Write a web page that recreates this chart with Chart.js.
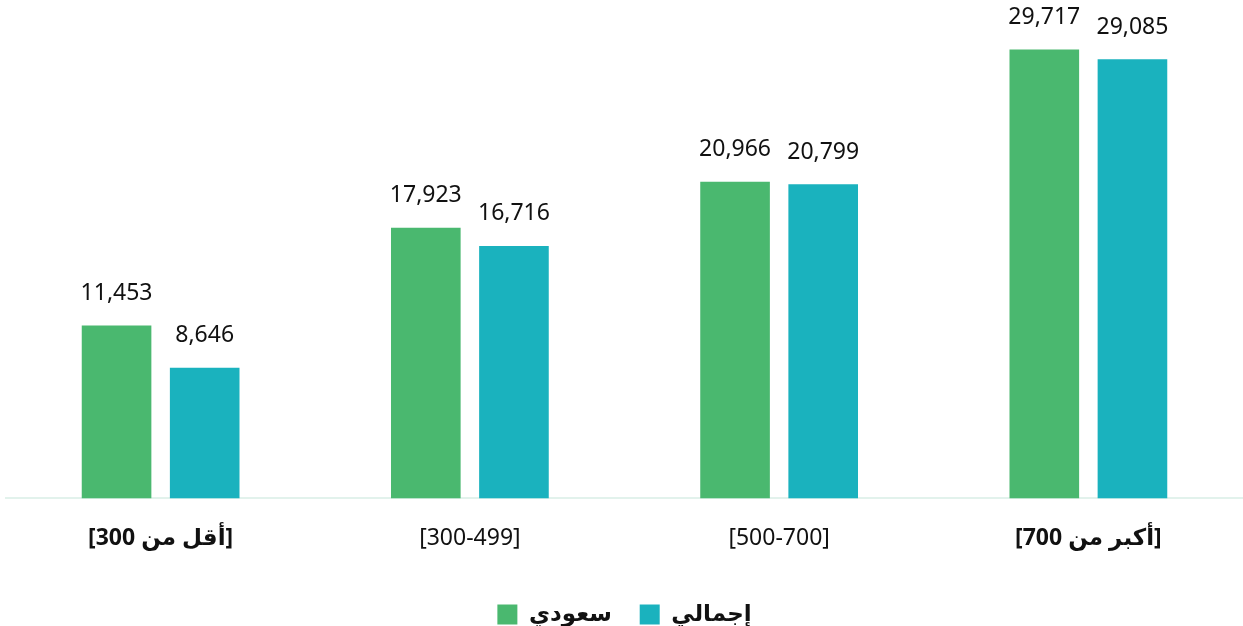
<!DOCTYPE html>
<html>
<head>
<meta charset="utf-8">
<script src="https://cdn.jsdelivr.net/npm/chart.js@4.4.1/dist/chart.umd.min.js"></script>
<style>
  html, body { margin: 0; padding: 0; background: #fff; }
  #wrap { width: 1243px; height: 626px; }
</style>
</head>
<body>
<div id="wrap"><canvas id="chart" width="1243" height="626"></canvas></div>
<script>
// ── Data ────────────────────────────────────────────────────────────────────
const categories = ['[أقل من 300]', '[300-499]', '[500-700]', '[أكبر من 700]'];
const boldCategories = [0, 3];
const saudiValues = [11453, 17923, 20966, 29717];
const totalValues = [8646, 16716, 20799, 29085];
const seriesNames = ['سعودي', 'إجمالي'];

const FONT = "'Noto Sans', 'DejaVu Sans', sans-serif";

// ── Value labels above bars ─────────────────────────────────────────────────
const barValueLabels = {
  id: 'barValueLabels',
  afterDatasetsDraw(chart) {
    const ctx = chart.ctx;
    ctx.save();
    ctx.font = '23px ' + FONT;
    ctx.fillStyle = '#111';
    ctx.textAlign = 'center';
    ctx.textBaseline = 'middle';
    chart.data.datasets.forEach(function (ds, i) {
      chart.getDatasetMeta(i).data.forEach(function (bar, j) {
        ctx.fillText(ds.data[j].toLocaleString('en-US'), bar.x, bar.y - 32);
      });
    });
    ctx.restore();
  }
};

new Chart(document.getElementById('chart'), {
  type: 'bar',
  data: {
    labels: categories,
    datasets: [
      { label: seriesNames[0], data: saudiValues, backgroundColor: '#4ab86f' },
      { label: seriesNames[1], data: totalValues, backgroundColor: '#1ab2be' }
    ]
  },
  options: {
    responsive: false,
    animation: false,
    layout: { padding: { left: 6, right: 0, top: 0, bottom: -10 } },
    categoryPercentage: 0.57,
    barPercentage: 0.79,
    plugins: {
      legend: {
        position: 'bottom',
        labels: {
          boxWidth: 20,
          boxHeight: 20,
          padding: 4,
          color: '#111',
          font: { family: FONT, size: 23, weight: 'bold' },
          generateLabels: function (chart) {
            const items = Chart.defaults.plugins.legend.labels.generateLabels(chart);
            // extra room between the two items
            items[0].text = items[0].text + '\u00A0\u00A0\u00A0\u00A0';
            return items;
          }
        }
      },
      tooltip: { enabled: false }
    },
    scales: {
      x: {
        grid: { display: false },
        border: { display: true, color: '#e2f2ec', width: 2 },
        ticks: {
          color: '#111',
          padding: 18,
          font: function (c) {
            return { family: FONT, size: 23, weight: boldCategories.includes(c.index) ? 'bold' : 'normal' };
          }
        },
        afterFit: function (scale) { scale.height += 29; }
      },
      y: { display: false, min: 0, max: 33000 }
    }
  },
  plugins: [barValueLabels]
});
</script>
</body>
</html>
